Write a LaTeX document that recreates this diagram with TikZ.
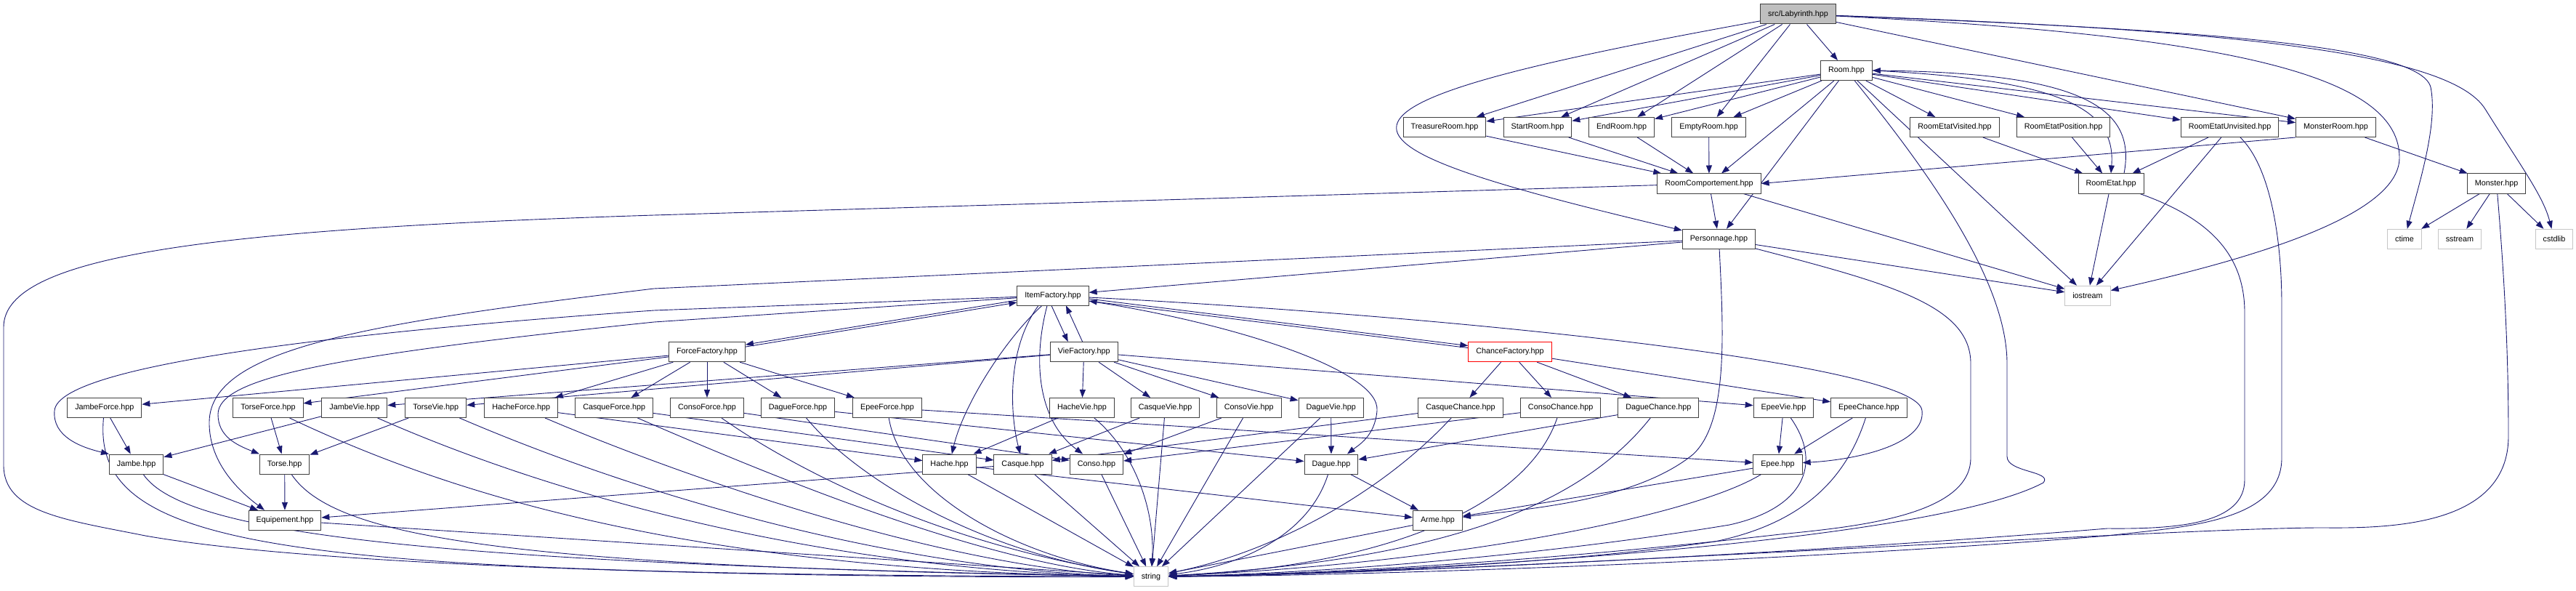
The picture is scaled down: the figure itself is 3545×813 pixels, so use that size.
\documentclass[tikz,border=0pt]{standalone}
\usepackage{fontspec}
\setmainfont{Liberation Sans}
\usepackage{tikz}
\usetikzlibrary{arrows.meta}
\usepackage{xcolor}
\definecolor{edgeblue}{RGB}{25,25,112}
\pgfdeclarelayer{edges}
\pgfsetlayers{edges,main}

\begin{document}
\begin{tikzpicture}[x=1pt,y=-1pt,>={Triangle[length=11pt,width=8pt]},font=\fontsize{10.8}{12}\selectfont,line cap=round,
  file/.style={draw=black!75,line width=1pt,fill=white,minimum height=27pt,inner xsep=10.5pt,inner ysep=0pt},
  sys/.style={file,draw=gray!45},
  dep/.style={->,draw=edgeblue,line width=0.9pt}]
\useasboundingbox (0,0) rectangle (3545,813);
\node[file,fill=gray!50] (lab) at (2474.5,19.5) {src/Labyrinth.hpp};
\node[file] (room) at (2541,97) {Room.hpp};
\node[file] (treasure) at (1988,175) {TreasureRoom.hpp};
\node[file] (start) at (2116,175) {StartRoom.hpp};
\node[file] (endroom) at (2231.5,175) {EndRoom.hpp};
\node[file] (empty) at (2351.6,175) {EmptyRoom.hpp};
\node[file] (visited) at (2690,175) {RoomEtatVisited.hpp};
\node[file] (position) at (2839.6,175) {RoomEtatPosition.hpp};
\node[file] (unvisited) at (3068.6,175) {RoomEtatUnvisited.hpp};
\node[file] (monsterroom) at (3214.4,175) {MonsterRoom.hpp};
\node[file] (comport) at (2352,252.5) {RoomComportement.hpp};
\node[file] (etat) at (2905,252.5) {RoomEtat.hpp};
\node[file] (monster) at (3435.6,252.5) {Monster.hpp};
\node[file] (perso) at (2365.4,328.8) {Personnage.hpp};
\node[sys] (ctime) at (3309,328.8) {ctime};
\node[sys] (sstream) at (3385,328.8) {sstream};
\node[sys] (cstdlib) at (3515,328.8) {cstdlib};
\node[sys] (iostream) at (2873,406.7) {iostream};
\node[file] (itemf) at (1449,406.5) {ItemFactory.hpp};
\node[file] (forcef) at (973,484.2) {ForceFactory.hpp};
\node[file] (vief) at (1491.7,484.2) {VieFactory.hpp};
\node[file,draw=red] (chancef) at (2078,484.2) {ChanceFactory.hpp};
\node[file] (jambeforce) at (143.8,561) {JambeForce.hpp};
\node[file] (torseforce) at (369,561) {TorseForce.hpp};
\node[file] (jambevie) at (487.9,561) {JambeVie.hpp};
\node[file] (torsevie) at (599.8,561) {TorseVie.hpp};
\node[file] (hacheforce) at (717.2,561) {HacheForce.hpp};
\node[file] (casqueforce) at (845.2,561) {CasqueForce.hpp};
\node[file] (consoforce) at (973,561) {ConsoForce.hpp};
\node[file] (dagueforce) at (1098,561) {DagueForce.hpp};
\node[file] (epeeforce) at (1221,561) {EpeeForce.hpp};
\node[file] (hachevie) at (1489,561) {HacheVie.hpp};
\node[file] (casquevie) at (1603.6,561) {CasqueVie.hpp};
\node[file] (consovie) at (1718.7,561) {ConsoVie.hpp};
\node[file] (daguevie) at (1831.7,561) {DagueVie.hpp};
\node[file] (casquechance) at (2010,561) {CasqueChance.hpp};
\node[file] (consochance) at (2147.7,561) {ConsoChance.hpp};
\node[file] (daguechance) at (2282.3,561) {DagueChance.hpp};
\node[file] (epeevie) at (2454.5,561) {EpeeVie.hpp};
\node[file] (epeechance) at (2571.9,561) {EpeeChance.hpp};
\node[file] (jambe) at (187.7,638.5) {Jambe.hpp};
\node[file] (torse) at (391.7,638.5) {Torse.hpp};
\node[file] (hache) at (1306.6,638.5) {Hache.hpp};
\node[file] (casque) at (1407.6,638.5) {Casque.hpp};
\node[file] (conso) at (1509,638.5) {Conso.hpp};
\node[file] (dague) at (1832,638.5) {Dague.hpp};
\node[file] (epee) at (2446.5,638.5) {Epee.hpp};
\node[file] (equip) at (392,715.8) {Equipement.hpp};
\node[file] (arme) at (1978.4,715.8) {Arme.hpp};
\node[sys] (string) at (1584,793.3) {string};
\begin{pgfonlayer}{edges}
\draw[dep] (lab) -- (room);
\draw[dep] (lab) -- (treasure);
\draw[dep] (lab) -- (start);
\draw[dep] (lab) -- (endroom);
\draw[dep] (lab) -- (empty);
\draw[dep] (lab) -- (monsterroom);
\draw[dep] (lab) .. controls (1750,150) and (1800,195) .. (perso);
\draw[dep] (lab) .. controls (3100,50) and (3302,110) .. (3302,217) .. controls (3302,300) and (3080,360) .. (iostream);
\draw[dep] (lab) .. controls (3000,40) and (3330,60) .. (3345,120) .. controls (3355,170) and (3330,250) .. (ctime);
\draw[dep] (lab) .. controls (3050,40) and (3370,70) .. (3420,150) .. controls (3470,230) and (3500,270) .. (cstdlib);
\draw[dep] (room) -- (treasure);
\draw[dep] (room) -- (start);
\draw[dep] (room) -- (endroom);
\draw[dep] (room) -- (empty);
\draw[dep] (room) -- (comport);
\draw[dep] (room) -- (perso);
\draw[dep] (room) -- (iostream);
\draw[dep] (room) -- (visited);
\draw[dep] (room) -- (position);
\draw[dep] (room) -- (unvisited);
\draw[dep] (room) -- (monsterroom);
\draw[dep] (room.east) .. controls (2840,110) and (2912,150) .. (etat.north);
\draw[dep] ([xshift=18pt]etat.north) .. controls (2940,150) and (2870,100) .. (room.east);
\draw[dep] (room) .. controls (2640,220) and (2762,380) .. (2762,500) -- (2762,628) .. controls (2762,650) and (2825,648) .. (2812,664) .. controls (2650,750) and (1900,790) .. (string);
\draw[dep] (treasure) -- (comport);
\draw[dep] (start) -- (comport);
\draw[dep] (endroom) -- (comport);
\draw[dep] (empty) -- (comport);
\draw[dep] (monsterroom.south west) -- (comport.east);
\draw[dep] (comport) -- (perso);
\draw[dep] (comport) -- (iostream);
\draw[dep] (comport) -- (900,296) .. controls (300,315) and (5,350) .. (5,450) -- (5,640) .. controls (5,705) and (90,715) .. (200,737) .. controls (500,790) and (1300,795) .. (string);
\draw[dep] (visited) -- (etat);
\draw[dep] (position) -- (etat);
\draw[dep] (unvisited) -- (etat);
\draw[dep] (unvisited) -- (iostream);
\draw[dep] (etat) -- (iostream);
\draw[dep] (unvisited) .. controls (3125,230) and (3140,330) .. (3140,420) -- (3140,630) .. controls (3140,720) and (3000,725) .. (2900,737) .. controls (2500,770) and (1900,792) .. (string);
\draw[dep] (etat) .. controls (3040,300) and (3089,350) .. (3089,430) -- (3089,660) .. controls (3089,720) and (3000,728) .. (2900,727) .. controls (2500,760) and (1900,790) .. (string);
\draw[dep] (monsterroom) -- (monster);
\draw[dep] (monster) -- (ctime);
\draw[dep] (monster) -- (sstream);
\draw[dep] (monster) -- (cstdlib);
\draw[dep] (monster) .. controls (3448,400) and (3452,500) .. (3452,600) .. controls (3452,720) and (3300,727) .. (3200,726) .. controls (3000,725) and (2000,790) .. (string);
\draw[dep] (perso) -- (itemf);
\draw[dep] (perso) -- (900,397) .. controls (500,445) and (290,480) .. (288,580) .. controls (287,640) and (335,680) .. ([xshift=-28pt]equip.north);
\draw[dep] (perso) .. controls (2372,460) and (2378,580) .. (2330,625) .. controls (2250,690) and (2100,700) .. (arme);
\draw[dep] (perso) -- (iostream);
\draw[dep] (perso) .. controls (2600,390) and (2712,420) .. (2712,500) -- (2712,630) .. controls (2712,710) and (2550,725) .. (2450,735) .. controls (2100,775) and (1800,790) .. (string);
\draw[dep,transform canvas={yshift=1.5pt}] (itemf) -- (forcef);
\draw[dep,transform canvas={yshift=-1.5pt}] (forcef) -- (itemf);
\draw[dep] ([xshift=-2pt]itemf.south) -- ([xshift=-22pt]vief.north);
\draw[dep] ([xshift=-2pt]vief.north) -- ([xshift=18pt]itemf.south);
\draw[dep,transform canvas={yshift=1.5pt}] (itemf) -- (chancef);
\draw[dep,transform canvas={yshift=-1.5pt}] (chancef) -- (itemf);
\draw[dep] (itemf) -- (900,427) .. controls (500,455) and (80,500) .. (75,565) .. controls (72,600) and (110,615) .. (jambe.north west);
\draw[dep] (itemf) -- (900,443) .. controls (450,490) and (300,520) .. (300,570) .. controls (300,600) and (325,612) .. (torse.north west);
\draw[dep] (itemf) .. controls (1380,470) and (1325,560) .. (hache);
\draw[dep] ([xshift=-20pt]itemf.south) .. controls (1385,480) and (1390,570) .. (casque);
\draw[dep] ([xshift=-8pt]itemf.south) .. controls (1420,500) and (1430,580) .. (conso);
\draw[dep] (itemf) .. controls (1700,445) and (1900,510) .. (1895,565) .. controls (1892,600) and (1870,612) .. ([xshift=22pt]dague.north);
\draw[dep] (itemf) .. controls (2000,435) and (2640,500) .. (2645,565) .. controls (2650,610) and (2560,632) .. (epee);
\draw[dep] (forcef) -- (jambeforce);
\draw[dep] (forcef) -- (torseforce);
\draw[dep] (forcef) -- (hacheforce);
\draw[dep] (forcef) -- (casqueforce);
\draw[dep] (forcef) -- (consoforce);
\draw[dep] (forcef) -- (dagueforce);
\draw[dep] (forcef) -- (epeeforce);
\draw[dep] (vief) -- (jambevie);
\draw[dep] (vief) -- (torsevie);
\draw[dep] (vief) -- (hachevie);
\draw[dep] (vief) -- (casquevie);
\draw[dep] (vief) -- (consovie);
\draw[dep] (vief) -- (daguevie);
\draw[dep] (vief) -- (epeevie);
\draw[dep] (chancef) -- (casquechance);
\draw[dep] (chancef) -- (consochance);
\draw[dep] (chancef) -- (daguechance);
\draw[dep] (chancef) -- (epeechance);
\draw[dep] (jambeforce) -- (jambe);
\draw[dep] (jambevie) -- (jambe);
\draw[dep] (torseforce) -- (torse);
\draw[dep] (torsevie) -- (torse);
\draw[dep] (hacheforce) -- (hache);
\draw[dep] (hachevie) -- (hache);
\draw[dep] (casqueforce) -- (casque);
\draw[dep] (casquevie) -- (casque);
\draw[dep] (casquechance) -- (casque);
\draw[dep] (consoforce) -- (conso);
\draw[dep] (consovie) -- (conso);
\draw[dep] (consochance) -- (conso);
\draw[dep] (dagueforce) -- (dague);
\draw[dep] (daguevie) -- (dague);
\draw[dep] (daguechance) -- (dague);
\draw[dep] (epeeforce) -- (epee);
\draw[dep] (epeevie) -- (epee);
\draw[dep] (epeechance) -- (epee);
\draw[dep] (jambe) -- (equip);
\draw[dep] (torse) -- (equip);
\draw[dep] (casque) -- (equip);
\draw[dep] (hache) -- (arme);
\draw[dep] (dague) -- (arme);
\draw[dep] (epee) -- (arme);
\draw[dep] (arme) -- (string);
\draw[dep] (jambeforce) .. controls (125,760) and (400,790) .. (string);
\draw[dep] (jambe) .. controls (250,730) and (550,775) .. (string);
\draw[dep] (equip) -- (string);
\draw[dep] (torse) .. controls (460,740) and (700,780) .. (string);
\draw[dep] (torseforce) .. controls (620,680) and (950,785) .. (string);
\draw[dep] (jambevie) .. controls (780,690) and (1150,785) .. (string);
\draw[dep] (torsevie) .. controls (900,690) and (1250,785) .. (string);
\draw[dep] (hacheforce) .. controls (950,660) and (1300,780) .. (string);
\draw[dep] (casqueforce) .. controls (1050,650) and (1350,775) .. (string);
\draw[dep] (consoforce) .. controls (1100,650) and (1300,750) .. (string);
\draw[dep] (dagueforce) .. controls (1180,660) and (1350,760) .. (string);
\draw[dep] (epeeforce) .. controls (1240,680) and (1400,765) .. (string);
\draw[dep] (hache) -- (string);
\draw[dep] (casque) -- (string);
\draw[dep] (conso) -- (string);
\draw[dep] (hachevie) .. controls (1560,620) and (1590,700) .. (string);
\draw[dep] (casquevie) -- (string);
\draw[dep] (consovie) -- (string);
\draw[dep] (daguevie) -- (string);
\draw[dep] (casquechance) .. controls (1900,680) and (1750,760) .. (string);
\draw[dep] (consochance) .. controls (2100,700) and (1900,780) .. (string);
\draw[dep] (daguechance) .. controls (2180,690) and (2000,770) .. (string);
\draw[dep] (dague) .. controls (1800,740) and (1700,780) .. (string);
\draw[dep] (epee) .. controls (2330,710) and (2000,775) .. (string);
\draw[dep] (epeevie) .. controls (2510,640) and (2480,700) .. (2380,722) .. controls (2150,760) and (1850,788) .. (string);
\draw[dep] (epeechance) .. controls (2540,660) and (2480,720) .. (2360,745) .. controls (2150,775) and (1850,790) .. (string);
\end{pgfonlayer}
\end{tikzpicture}
\end{document}
